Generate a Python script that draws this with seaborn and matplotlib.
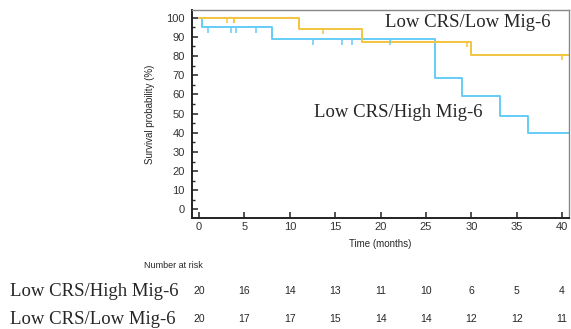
import numpy as np
import pandas as pd
import seaborn as sns
import matplotlib.pyplot as plt
import matplotlib.transforms as mtransforms

# Kaplan-Meier steps
high_times = [0, 0.3, 8, 26, 29, 33.2, 36.2, 40.8]
high_surv = [100, 95, 88.7, 68.7, 59.2, 48.7, 39.8, 39.8]
high_censor = [1.0, 3.5, 4.1, 6.3, 12.6, 15.7, 16.8, 21]

low_times = [0, 11, 18, 30, 40.8]
low_surv = [100, 94.2, 87.5, 80.6, 80.6]
low_censor = [3.1, 3.8, 3.9, 13.6, 29.5, 40]

risk_times = [0, 5, 10, 15, 20, 25, 30, 35, 40]
risk_high = [20, 16, 14, 13, 11, 10, 6, 5, 4]
risk_low = [20, 17, 17, 15, 14, 14, 12, 12, 11]

name_high = "Low CRS/High Mig-6"
name_low = "Low CRS/Low Mig-6"
col_high = "#66CCF5"
col_low = "#F3C43F"


def step_value(times, surv, t):
    idx = np.searchsorted(times, t, side="right") - 1
    return surv[idx]


def main():
    sns.set_style("white")
    plt.rcParams["font.family"] = ["Liberation Sans", "DejaVu Sans"]

    df = pd.concat([
        pd.DataFrame({"time": high_times, "surv": high_surv, "group": name_high}),
        pd.DataFrame({"time": low_times, "surv": low_surv, "group": name_low}),
    ])

    fig = plt.figure(figsize=(5.71, 3.29), dpi=100)
    ax = fig.add_axes([0.336, 0.337, 0.661, 0.633])

    sns.lineplot(data=df, x="time", y="surv", hue="group",
                 palette={name_high: col_high, name_low: col_low},
                 drawstyle="steps-post", linewidth=1.4, legend=False,
                 estimator=None, sort=False, ax=ax)

    # censor ticks hanging below the curves
    for times, surv, cens, col in [(high_times, high_surv, high_censor, col_high),
                                   (low_times, low_surv, low_censor, col_low)]:
        lv = [step_value(times, surv, c) for c in cens]
        ax.vlines(cens, [v - 2.8 for v in lv], lv, colors=col, linewidth=1.1)

    ax.set_xlim(-0.8, 40.8)
    ax.set_ylim(-4.5, 104)
    ax.set_xticks(risk_times)
    ax.set_yticks(range(0, 101, 10))
    ax.set_yticks(range(5, 101, 10), minor=True)
    ax.tick_params(axis="both", which="major", direction="in", length=4,
                   width=1.2, labelsize=8, colors="#333333", pad=3)
    ax.tick_params(axis="y", which="minor", direction="in", length=2.5,
                   width=1.0, left=True)
    ax.tick_params(axis="x", bottom=True)
    ax.tick_params(axis="y", left=True, pad=5)

    for s in ["left", "bottom"]:
        ax.spines[s].set_color("#222222")
        ax.spines[s].set_linewidth(1.4)
    for s in ["top", "right"]:
        ax.spines[s].set_color("#888888")
        ax.spines[s].set_linewidth(1.0)

    ax.set_xlabel("Time (months)", fontsize=7, labelpad=5)
    ax.set_ylabel("Survival probability (%)", fontsize=7, labelpad=8)

    serif = ["Liberation Serif", "DejaVu Serif"]
    ax.text(29.6, 97.3, name_low, family=serif, fontsize=13.5,
            ha="center", va="center")
    ax.text(21.9, 50.5, name_high, family=serif, fontsize=13.5,
            ha="center", va="center")

    # number-at-risk table
    fig.text(173 / 571, 1 - 265 / 329, "Number at risk", fontsize=6.5,
             ha="center", va="center")
    trans = mtransforms.blended_transform_factory(ax.transData, fig.transFigure)
    for label, counts, ypix in [(name_high, risk_high, 291), (name_low, risk_low, 319)]:
        yf = 1 - ypix / 329
        fig.text(10 / 571, yf, label, family=serif, fontsize=13.5,
                 ha="left", va="center")
        for t, n in zip(risk_times, counts):
            ax.text(t, yf, str(n), transform=trans, fontsize=7.5,
                    ha="center", va="center", clip_on=False)

    fig.savefig("out.png", dpi=100)


if __name__ == "__main__":
    main()
